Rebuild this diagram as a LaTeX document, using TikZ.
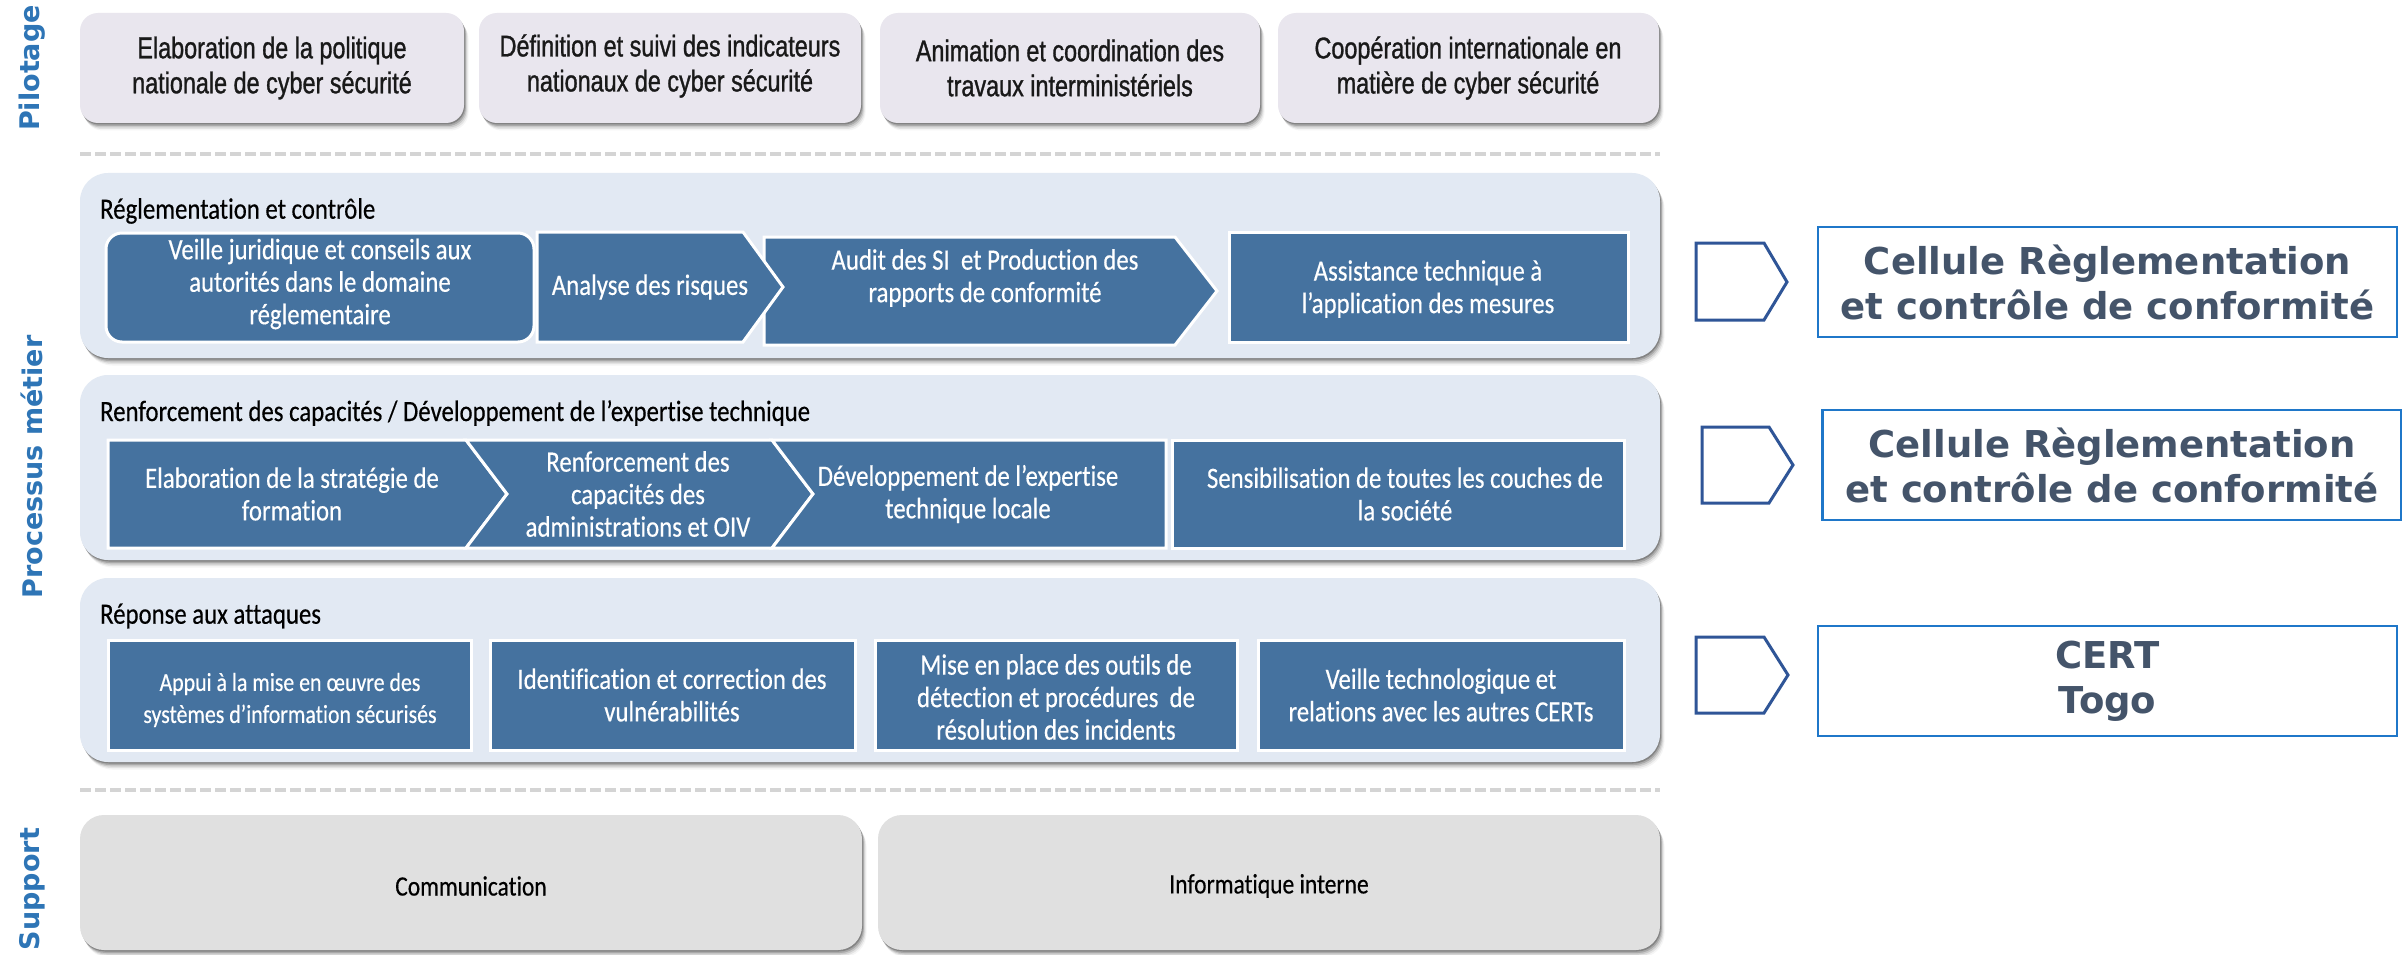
\documentclass[tikz,border=0pt]{standalone}
\usepackage{fontspec}
\newfontfamily\pfont[FakeStretch=0.78,FakeBold=1.0]{Liberation Sans}
\newfontfamily\bfont[FakeStretch=0.84,FakeBold=0.4,Ligatures=NoCommon]{Carlito}
\newfontfamily\dfont{DejaVu Sans}
\definecolor{sideblue}{HTML}{2E75B6}
\definecolor{pilfill}{HTML}{E9E6EE}
\definecolor{grpfill}{HTML}{E2E9F3}
\definecolor{boxblue}{HTML}{45729F}
\definecolor{supfill}{HTML}{E0E0E0}
\definecolor{dashgray}{HTML}{D4D4D4}
\definecolor{celltext}{HTML}{44546A}
\definecolor{cellborder}{HTML}{1F77C9}
\definecolor{pentborder}{HTML}{2F5597}
\newcommand{\softshadow}[5]{%
  \foreach \o/\op in {1.5/0.22,3/0.16,4.5/0.11,6/0.07,7.5/0.04}{%
    \fill[black,opacity=\op,rounded corners=#5pt] (#1+\o*0.6,#2+\o) rectangle (#3+\o*0.6,#4+\o);}}
\begin{document}
\begin{tikzpicture}[x=1pt,y=-1pt,
  piltext/.style={font=\pfont\fontsize{30}{35}\selectfont, align=center, text=black!90},
  boxtext/.style={font=\bfont\fontsize{29.5}{32.5}\selectfont, align=center, text=white},
  smalltext/.style={font=\bfont\fontsize{26}{32}\selectfont, align=center, text=white},
  suptext/.style={font=\bfont\fontsize{28}{30}\selectfont, align=center, text=black},
  grptitle/.style={font=\bfont\fontsize{29.5}{32}\selectfont, anchor=west, text=black, inner sep=0pt},
  side/.style={font=\dfont\bfseries\fontsize{27}{30}\selectfont, text=sideblue, rotate=90, inner sep=0pt},
  cell/.style={draw=cellborder, line width=2.5pt, fill=white, font=\dfont\bfseries\fontsize{37}{45}\selectfont, text=celltext, align=center, minimum width=579pt, minimum height=110pt, inner sep=0pt},
  blueshape/.style={fill=boxblue, draw=white, line width=3pt, line join=miter},
  pent/.style={draw=pentborder, line width=3pt, fill=white, line join=miter},
  dashline/.style={draw=dashgray, line width=4pt, dash pattern=on 11pt off 4pt}
]
\useasboundingbox (0,0) rectangle (2402,955);
\fill[white] (0,0) rectangle (2402,955);

% side labels
\node[side] (lpil) at (32,68) {Pilotage};
\node[side] (lproc) at (32,467) {Processus métier};
\node[side] (lsup) at (32,889) {Support};

% Pilotage boxes
\softshadow{80}{13}{464}{123}{18}
\softshadow{479}{13}{861}{123}{18}
\softshadow{880}{13}{1260}{123}{18}
\softshadow{1278}{13}{1659}{123}{18}
\fill[pilfill, rounded corners=18pt] (80,13) rectangle (464,123);
\fill[pilfill, rounded corners=18pt] (479,13) rectangle (861,123);
\fill[pilfill, rounded corners=18pt] (880,13) rectangle (1260,123);
\fill[pilfill, rounded corners=18pt] (1278,13) rectangle (1659,123);
\node[piltext] (p1) at (272,68) {Elaboration de la politique\\nationale de cyber sécurité};
\node[piltext] (p2) at (670,66) {Définition et suivi des indicateurs\\nationaux de cyber sécurité};
\node[piltext] (p3) at (1070,68) {Animation et coordination des\\travaux interministériels};
\node[piltext] (p4) at (1468,68) {Coopération internationale en\\matière de cyber sécurité};

% dashed separators
\coordinate (d1a) at (80,154);
\coordinate (d1b) at (1660,154);
\coordinate (d2a) at (80,790);
\coordinate (d2b) at (1660,790);
\draw[dashline] (d1a) -- (d1b);
\draw[dashline] (d2a) -- (d2b);

% group panels
\softshadow{80}{173}{1660}{358}{28}
\softshadow{80}{375}{1660}{560}{28}
\softshadow{80}{578}{1660}{762}{28}
\fill[grpfill, rounded corners=28pt] (80,173) rectangle (1660,358);
\fill[grpfill, rounded corners=28pt] (80,375) rectangle (1660,560);
\fill[grpfill, rounded corners=28pt] (80,578) rectangle (1660,762);
\node[grptitle] (t1) at (100,211) {Réglementation et contrôle};
\node[grptitle] (t2) at (100,413) {Renforcement des capacités / Développement de l’expertise technique};
\node[grptitle] (t3) at (100,616) {Réponse aux attaques};

% Row 1
\draw[blueshape, rounded corners=16pt] (106,233) rectangle (534,342);
\draw[blueshape] (764,237) -- (1175,237) -- (1217,291) -- (1175,345) -- (764,345) -- cycle;
\draw[blueshape] (537,232) -- (743,232) -- (783,287) -- (743,342) -- (537,342) -- cycle;
\draw[blueshape] (1229,232) rectangle (1628,342);
\node[boxtext] (r11) at (320,284) {Veille juridique et conseils aux\\autorités dans le domaine\\réglementaire};
\node[boxtext] (r12) at (650,287) {Analyse des risques};
\node[boxtext] (r13) at (985,278) {Audit des SI~ et Production des\\rapports de conformité};
\node[boxtext] (r14) at (1428,289) {Assistance technique à\\l’application des mesures};

% Row 2
\draw[blueshape] (108,440) -- (466,440) -- (507,494) -- (466,548) -- (108,548) -- cycle;
\draw[blueshape] (466,440) -- (772,440) -- (813,494) -- (772,548) -- (466,548) -- (507,494) -- cycle;
\draw[blueshape] (772,440) -- (1166,440) -- (1166,548) -- (772,548) -- (813,494) -- cycle;
\draw[blueshape] (1172,440) rectangle (1624,548);
\node[boxtext] (r21) at (292,494) {Elaboration de la stratégie de\\formation};
\node[boxtext] (r22) at (638,494) {Renforcement des\\capacités des\\administrations et OIV};
\node[boxtext] (r23) at (968,494) {Développement de l’expertise\\technique locale};
\node[boxtext] (r24) at (1405,494) {Sensibilisation de toutes les couches de\\la société};

% Row 3
\draw[blueshape] (108,640) rectangle (471,750);
\draw[blueshape] (490,640) rectangle (855,750);
\draw[blueshape] (875,640) rectangle (1237,750);
\draw[blueshape] (1258,640) rectangle (1624,750);
\node[smalltext] (r31) at (290,700) {Appui à la mise en œuvre des\\systèmes d’information sécurisés};
\node[boxtext] (r32) at (672,695) {Identification et correction des\\vulnérabilités};
\node[boxtext] (r33) at (1056,697) {Mise en place des outils de\\détection et procédures~ de\\résolution des incidents};
\node[boxtext] (r34) at (1441,695) {Veille technologique et\\relations avec les autres CERTs};

% Support boxes
\softshadow{80}{815}{862}{950}{24}
\softshadow{878}{815}{1660}{950}{24}
\fill[supfill, rounded corners=24pt] (80,815) rectangle (862,950);
\fill[supfill, rounded corners=24pt] (878,815) rectangle (1660,950);
\node[suptext] (s1) at (471,886) {Communication};
\node[suptext] (s2) at (1269,886) {Informatique interne};

% Right side
\draw[pent] (1696,243) -- (1764,243) -- (1787,282) -- (1764,320) -- (1696,320) -- cycle;
\draw[pent] (1702,427) -- (1769,427) -- (1793,465) -- (1769,503) -- (1702,503) -- cycle;
\draw[pent] (1696,637) -- (1764,637) -- (1788,675) -- (1764,713) -- (1696,713) -- cycle;
\node[cell] (c1) at (2107.5,282) {Cellule Règlementation\\et contrôle de conformité};
\node[cell] (c2) at (2112,465) {Cellule Règlementation\\et contrôle de conformité};
\node[cell] (c3) at (2107.5,681) {CERT\\Togo};
\end{tikzpicture}
\end{document}
